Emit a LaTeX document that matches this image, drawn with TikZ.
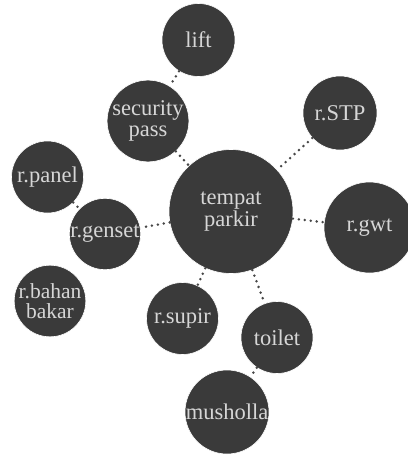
\documentclass[tikz,border=0pt]{standalone}
\usepackage{fontspec}
\setmainfont{Liberation Serif}
\definecolor{bubble}{HTML}{3A3A3A}
\definecolor{bubtext}{HTML}{D6D6D6}
\definecolor{dotc}{HTML}{474747}
\begin{document}
\begin{tikzpicture}[x=1pt,y=-1pt,
  bub/.style={circle,fill=bubble,draw=white,line width=0.6pt,inner sep=0pt,text=bubtext,align=center,
    font=\fontsize{22.5}{20.5}\selectfont},
  link/.style={draw=dotc,line width=2.8pt,line cap=round,dash pattern=on 0pt off 6pt}]
\useasboundingbox (0,0) rectangle (407,455);
\node[bub,minimum size=124pt,font=\fontsize{22.5}{22.5}\selectfont] (park) at (231,211.5) {tempat\\parkir};
\node[bub,minimum size=73pt] (lift) at (198.5,40) {lift};
\node[bub,minimum size=71pt] (sec) at (148,121) {security\\pass};
\node[bub,minimum size=74pt] (stp) at (340,113) {r.STP};
\node[bub,minimum size=72pt] (panel) at (47.5,177) {r.panel};
\node[bub,minimum size=91pt] (gwt) at (369.5,227.5) {r.gwt};
\node[bub,minimum size=71pt] (gen) at (105,234) {r.genset};
\node[bub,minimum size=70pt,font=\fontsize{21.5}{20}\selectfont] (bahan) at (50,301) {r.bahan\\bakar};
\node[bub,minimum size=72pt] (supir) at (182.5,318.5) {r.supir};
\node[bub,minimum size=72pt] (toilet) at (277,337.5) {toilet};
\node[bub,minimum size=84pt] (mush) at (227,412) {musholla};
\path[link] (lift) -- (sec);
\path[link] (sec) -- (park);
\path[link] (stp) -- (park);
\path[link] (park) -- (gwt);
\path[link] (park) -- (gen);
\path[link] (panel) -- (gen);
\path[link] (park) -- (supir);
\path[link] (park) -- (toilet);
\path[link] (toilet) -- (mush);
\end{tikzpicture}
\end{document}
